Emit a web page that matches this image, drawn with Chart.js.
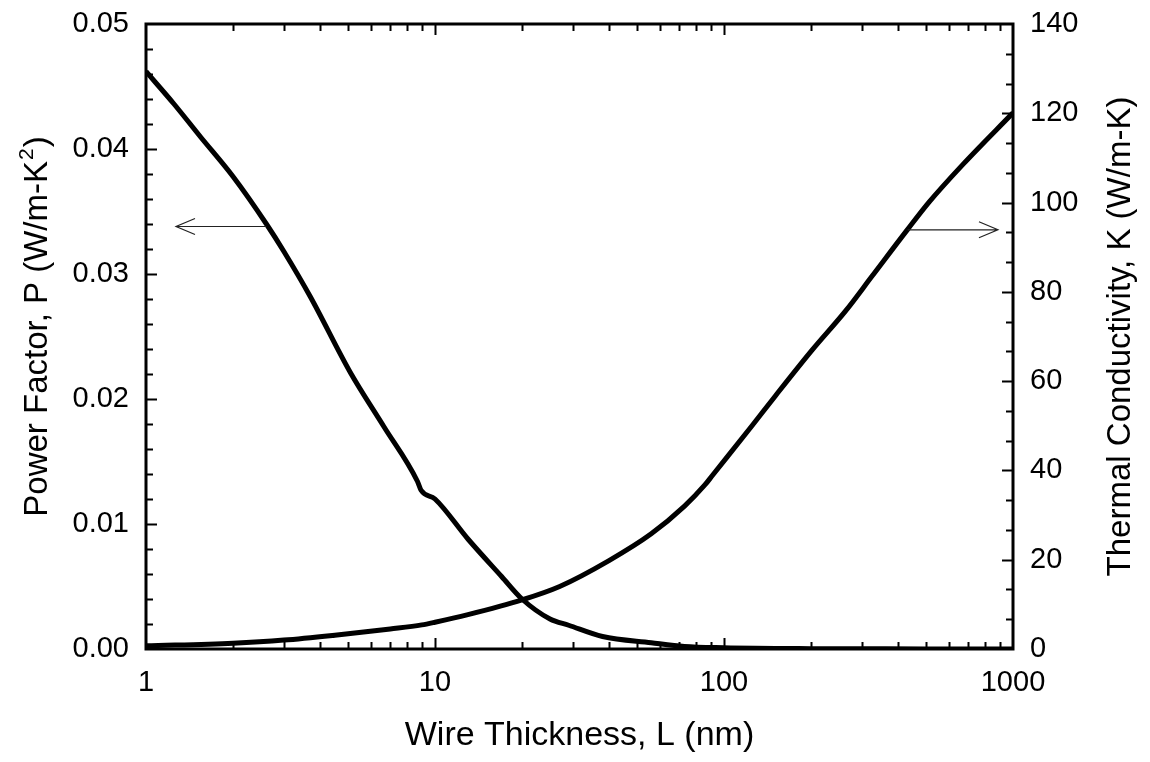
<!DOCTYPE html>
<html>
<head>
<meta charset="utf-8">
<script src="https://cdn.jsdelivr.net/npm/chart.js@4/dist/chart.umd.min.js"></script>
<style>
  html, body { margin: 0; padding: 0; background: #fff; }
  #wrap { width: 1150px; height: 762px; }
</style>
</head>
<body>
<div id="wrap"><canvas id="c" width="1150" height="762"></canvas></div>
<script>
// Power factor P (W/m-K^2) versus wire thickness L (nm)
const thicknessP = [1, 1.25, 1.54, 2.0, 2.61, 3.0, 3.7, 5.1, 6.65, 8.7, 8.95, 10, 13, 17, 20, 25, 29, 38, 56, 73, 100, 200, 500, 1000];
const powerFactor = [0.0462, 0.0436, 0.0410, 0.0378, 0.0340, 0.0318, 0.0282, 0.0221, 0.0178, 0.0134, 0.0127, 0.0120, 0.0088, 0.0058, 0.0040, 0.0024, 0.0019, 0.0010, 0.0005, 0.0002, 0.0001, 0.00003, 0.00001, 0];

// Thermal conductivity K (W/m-K) versus wire thickness L (nm)
const thicknessK = [1, 2, 3, 4.5, 7, 9, 10, 13, 20, 27, 40, 56, 73, 86, 91, 125, 151, 202, 264, 326, 432, 514, 670, 1000];
const thermalK = [0.7, 1.3, 2.0, 3.1, 4.5, 5.4, 6.0, 7.7, 11.0, 14.0, 19.8, 25.8, 32.0, 36.8, 38.8, 50.0, 56.8, 67.0, 75.8, 83.6, 94.0, 100.2, 108.5, 120.1];

// Tick labels
const xTickValues = [1, 10, 100, 1000];
const pTickValues = [0, 0.01, 0.02, 0.03, 0.04, 0.05];
const kTickValues = [0, 20, 40, 60, 80, 100, 120, 140];

// Arrows pointing each curve to its axis: [L start, L end] at a fixed level
const arrowPRange = [2.61, 1.27];
const arrowPLevel = 0.0338;
const arrowKRange = [432, 887];
const arrowKLevel = 93.9;

const FONT = '"Liberation Sans", Arial, Helvetica, sans-serif';
const leftTitle = ['Power Factor, P (W/m-K', '2', ')'];
const rightTitle = 'Thermal Conductivity, K (W/m-K)';

const frameAndTicks = {
  id: 'frameAndTicks',
  afterDatasetsDraw(chart) {
    const { ctx, chartArea: a, scales } = chart;
    const xs = scales.x, yp = scales.y, yk = scales.y1;
    ctx.save();
    ctx.strokeStyle = '#000';
    ctx.lineCap = 'butt';

    // inward tick marks
    ctx.lineWidth = 2;
    ctx.beginPath();
    for (let d = 1; d < 1000; d *= 10) {
      for (let m = 1; m <= 10; m++) {
        const v = d * m;
        if (v <= 1 || v >= 1000) continue;
        const len = (m === 10) ? 11 : 7;
        const px = Math.round(xs.getPixelForValue(v)) + 0.5;
        ctx.moveTo(px, a.bottom); ctx.lineTo(px, a.bottom - len);
        ctx.moveTo(px, a.top); ctx.lineTo(px, a.top + len);
      }
    }
    const pStep = (pTickValues[1] - pTickValues[0]) / 5;
    for (let i = 1; i < 25; i++) {
      const py = Math.round(yp.getPixelForValue(i * pStep)) + 0.5;
      const len = (i % 5 === 0) ? 11 : 7;
      ctx.moveTo(a.left, py); ctx.lineTo(a.left + len, py);
    }
    const kStep = (kTickValues[1] - kTickValues[0]) / 3;
    for (let i = 1; i < 21; i++) {
      const py = Math.round(yk.getPixelForValue(i * kStep)) + 0.5;
      const len = (i % 3 === 0) ? 11 : 7;
      ctx.moveTo(a.right, py); ctx.lineTo(a.right - len, py);
    }
    ctx.stroke();

    // plot frame
    ctx.lineWidth = 3;
    ctx.strokeRect(a.left, a.top, a.right - a.left, a.bottom - a.top);

    // arrows
    const arrow = (x0, y0, x1, y1) => {
      const ang = Math.atan2(y1 - y0, x1 - x0);
      ctx.beginPath();
      ctx.moveTo(x0, y0); ctx.lineTo(x1, y1);
      const back = 19, half = 8;
      const bx = x1 - back * Math.cos(ang), by = y1 - back * Math.sin(ang);
      ctx.moveTo(bx + half * Math.sin(ang), by - half * Math.cos(ang));
      ctx.lineTo(x1, y1);
      ctx.lineTo(bx - half * Math.sin(ang), by + half * Math.cos(ang));
      ctx.stroke();
    };
    ctx.lineWidth = 1.2;
    ctx.strokeStyle = '#222';
    const pyA = yp.getPixelForValue(arrowPLevel);
    arrow(xs.getPixelForValue(arrowPRange[0]), pyA, xs.getPixelForValue(arrowPRange[1]), pyA);
    const kyA = yk.getPixelForValue(arrowKLevel);
    arrow(xs.getPixelForValue(arrowKRange[0]), kyA, xs.getPixelForValue(arrowKRange[1]), kyA);

    // vertical axis titles, both reading bottom to top
    ctx.fillStyle = '#000';
    ctx.textBaseline = 'middle';
    const midY = (a.top + a.bottom) / 2;

    ctx.save();
    ctx.translate(1121, midY);
    ctx.rotate(-Math.PI / 2);
    ctx.font = '33px ' + FONT;
    ctx.textAlign = 'center';
    ctx.fillText(rightTitle, 0, 0);
    ctx.restore();

    ctx.save();
    ctx.translate(38, midY - 10);
    ctx.rotate(-Math.PI / 2);
    const big = '33px ' + FONT, small = '21px ' + FONT;
    ctx.font = big;
    const w0 = ctx.measureText(leftTitle[0]).width;
    const w2 = ctx.measureText(leftTitle[2]).width;
    ctx.font = small;
    const w1 = ctx.measureText(leftTitle[1]).width + 2;
    let x = -(w0 + w1 + w2) / 2;
    ctx.textAlign = 'left';
    ctx.font = big;
    ctx.fillText(leftTitle[0], x, 0);
    x += w0;
    ctx.font = small;
    ctx.fillText(leftTitle[1], x + 1, -11);
    x += w1;
    ctx.font = big;
    ctx.fillText(leftTitle[2], x, 0);
    ctx.restore();

    ctx.restore();
  }
};

const tickFont = { family: FONT, size: 29 };
const titleFont = { family: FONT, size: 34 };

new Chart(document.getElementById('c'), {
  type: 'line',
  data: {
    datasets: [
      {
        label: 'Power Factor',
        data: thicknessP.map((l, i) => ({ x: l, y: powerFactor[i] })),
        yAxisID: 'y',
        borderColor: '#000',
        borderWidth: 5,
        pointRadius: 0,
        cubicInterpolationMode: 'monotone',
        fill: false
      },
      {
        label: 'Thermal Conductivity',
        data: thicknessK.map((l, i) => ({ x: l, y: thermalK[i] })),
        yAxisID: 'y1',
        borderColor: '#000',
        borderWidth: 5,
        pointRadius: 0,
        cubicInterpolationMode: 'monotone',
        fill: false
      }
    ]
  },
  options: {
    responsive: false,
    animation: false,
    devicePixelRatio: 1,
    layout: { padding: { top: 24, left: 0, right: 0, bottom: 0 } },
    plugins: { legend: { display: false }, tooltip: { enabled: false } },
    scales: {
      x: {
        type: 'logarithmic',
        position: 'bottom',
        min: 1, max: 1000,
        grid: { display: false, drawTicks: false },
        border: { display: false },
        afterBuildTicks: s => { s.ticks = xTickValues.map(v => ({ value: v })); },
        afterFit: s => { s.height = 113; s.paddingLeft = 0; s.paddingRight = 0; },
        ticks: {
          color: '#000', font: tickFont, padding: 17,
          autoSkip: false, maxRotation: 0,
          callback: v => String(v)
        },
        title: {
          display: true, text: 'Wire Thickness, L (nm)', color: '#000',
          font: titleFont, padding: { top: 0, bottom: 6 }
        }
      },
      y: {
        position: 'left',
        min: 0, max: 0.05,
        grid: { display: false, drawTicks: false },
        border: { display: false },
        afterBuildTicks: s => { s.ticks = pTickValues.map(v => ({ value: v })); },
        afterFit: s => { s.width = 146; s.paddingTop = 0; s.paddingBottom = 0; },
        ticks: { color: '#000', font: tickFont, padding: 17, callback: v => Number(v).toFixed(2) },
        title: { display: false }
      },
      y1: {
        position: 'right',
        min: 0, max: 140,
        grid: { display: false, drawTicks: false },
        border: { display: false },
        afterBuildTicks: s => { s.ticks = kTickValues.map(v => ({ value: v })); },
        afterFit: s => { s.width = 137; s.paddingTop = 0; s.paddingBottom = 0; },
        ticks: { color: '#000', font: tickFont, padding: 17, callback: v => String(v) },
        title: { display: false }
      }
    }
  },
  plugins: [frameAndTicks]
});
</script>
</body>
</html>
